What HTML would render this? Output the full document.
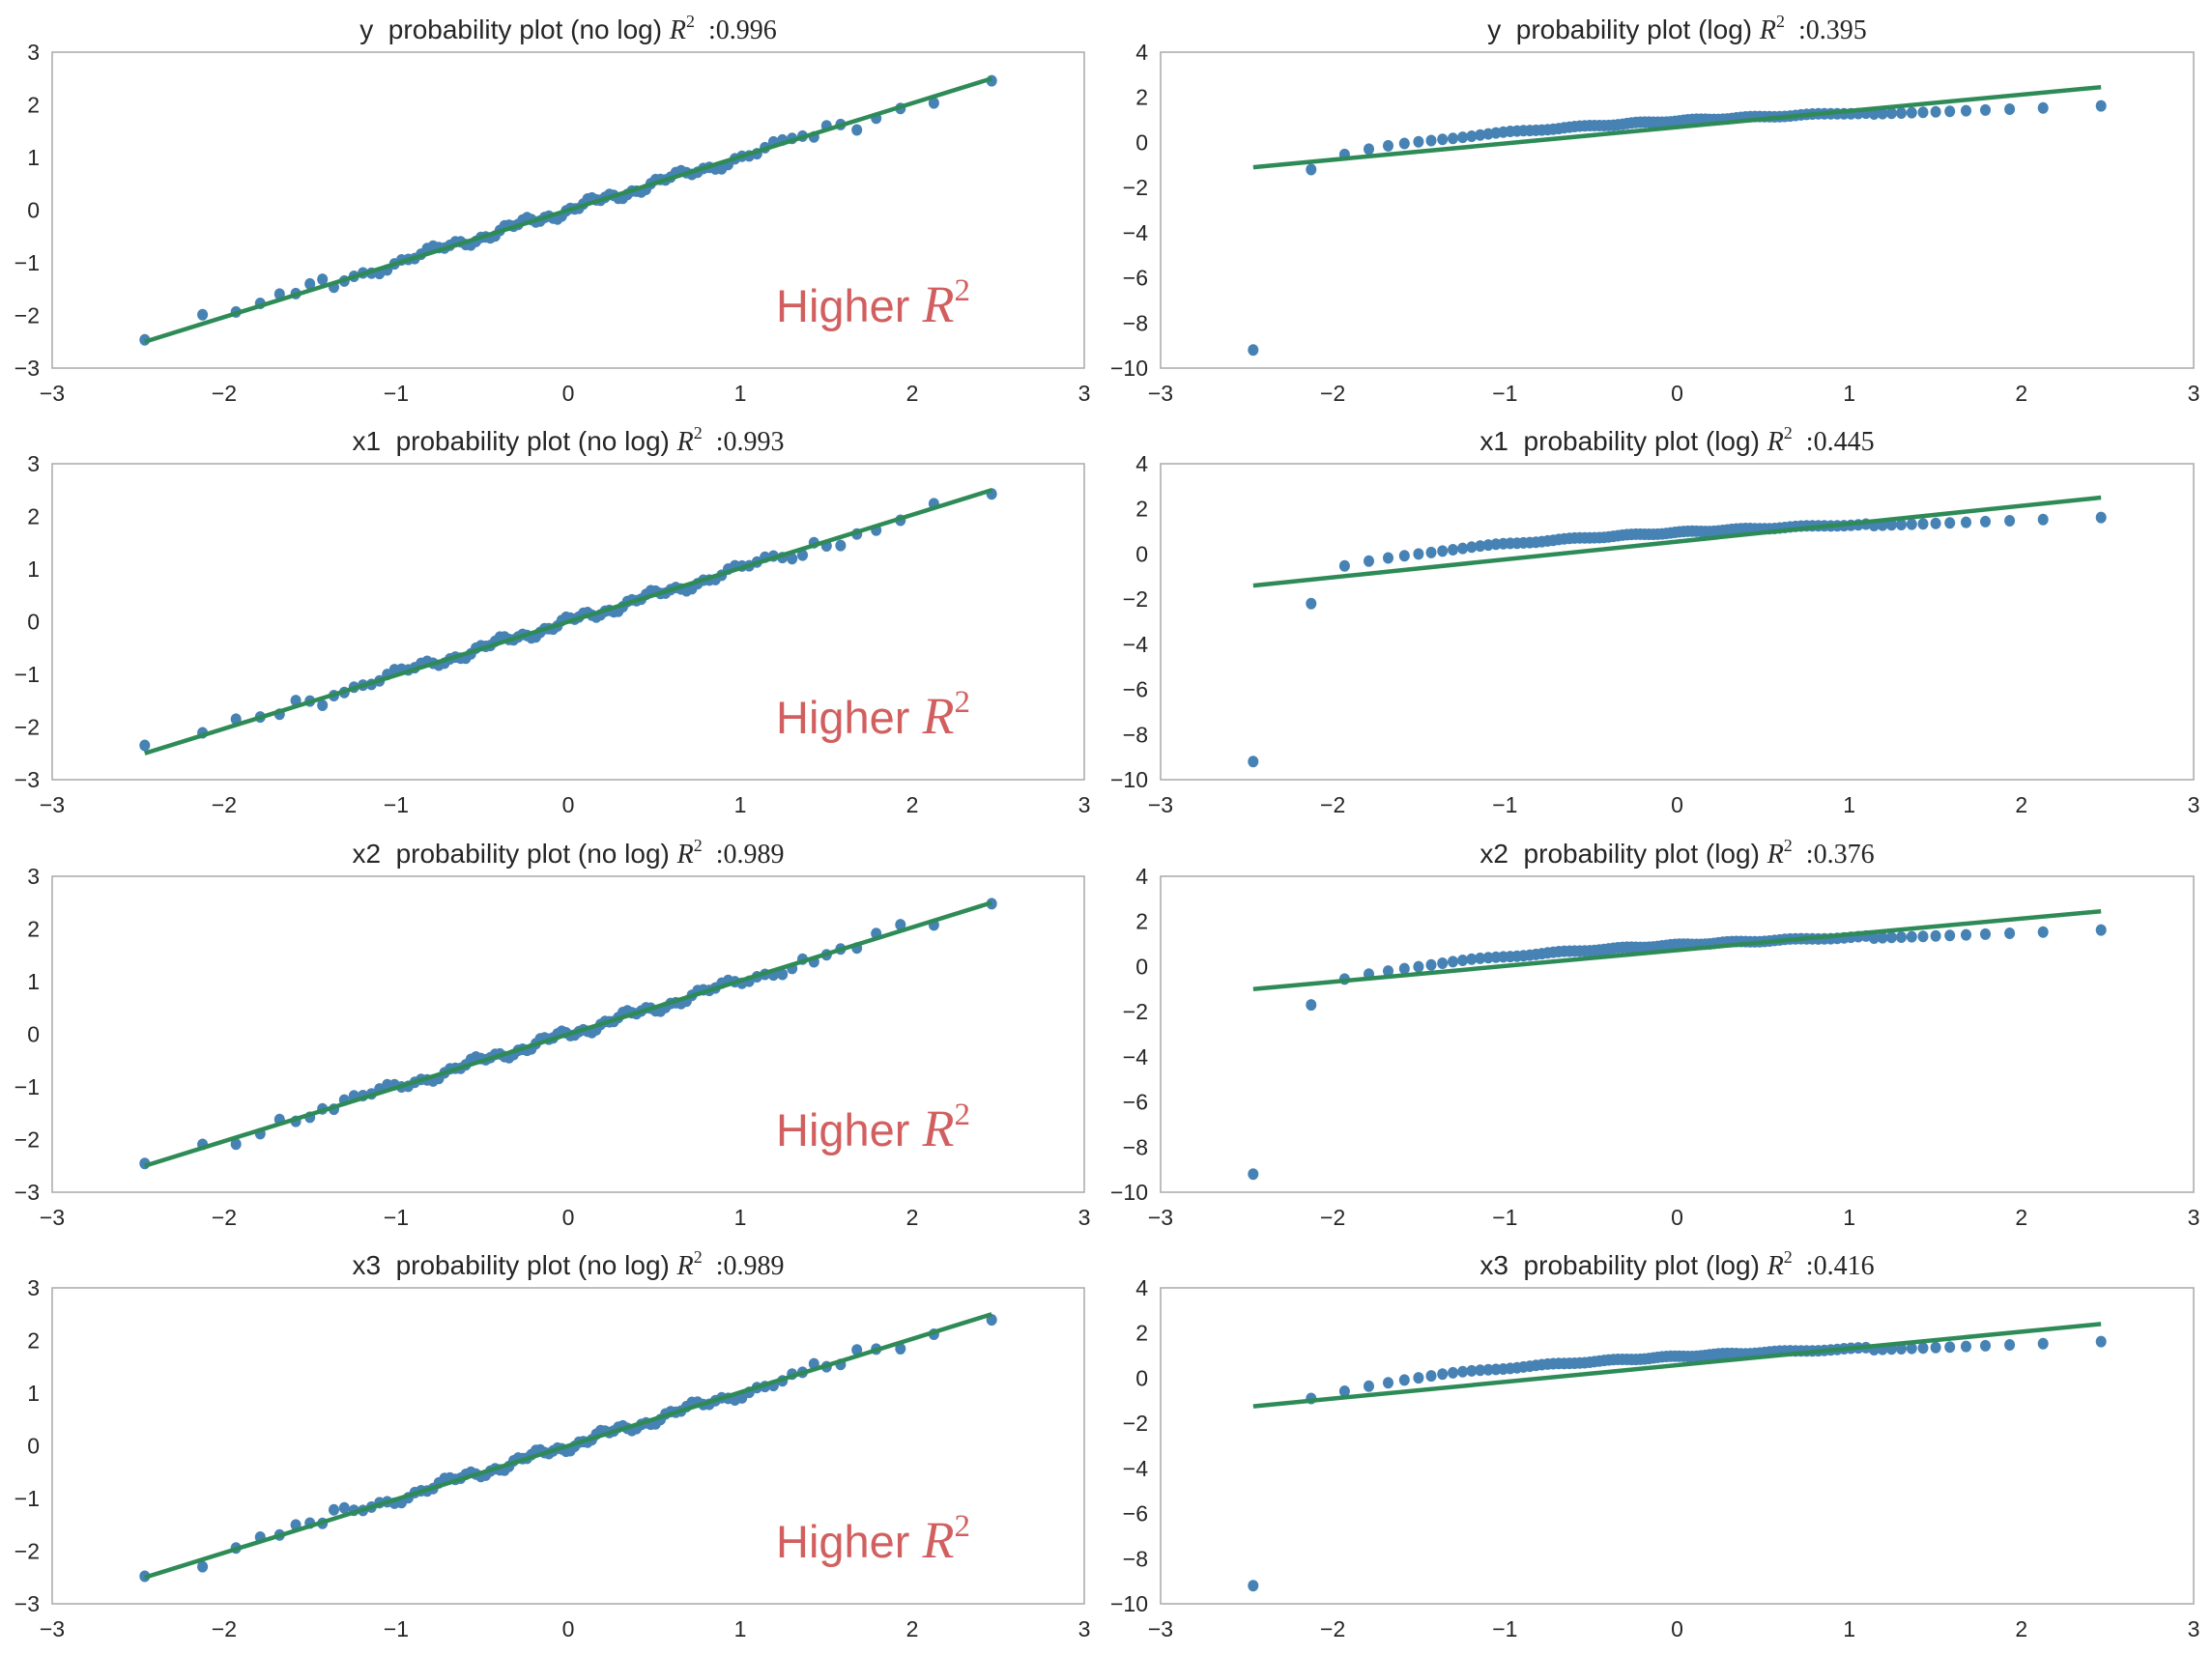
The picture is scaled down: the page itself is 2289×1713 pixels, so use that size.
<!DOCTYPE html>
<html><head><meta charset="utf-8"><style>
html,body{margin:0;padding:0;background:#fff}
svg{display:block}
text{font-family:"Liberation Sans",sans-serif;fill:#262626;white-space:pre}
</style></head><body>
<svg id="s" width="2289" height="1713" xmlns="http://www.w3.org/2000/svg"></svg>
<script>
const S=document.getElementById('s');
let h='';
function ppf(p){const a=[-39.6968302866538,220.946098424521,-275.928510446969,138.357751867269,-30.6647980661472,2.50662827745924],
b=[-54.4760987982241,161.585836858041,-155.698979859887,66.8013118877197,-13.2806815528857],
c=[-0.00778489400243029,-0.322396458041136,-2.40075827716184,-2.54973253934373,4.37466414146497,2.93816398269878],
d=[0.00778469570904146,0.32246712907004,2.445134137143,3.75440866190742];
let q,r;if(p<0.02425){q=Math.sqrt(-2*Math.log(p));return(((((c[0]*q+c[1])*q+c[2])*q+c[3])*q+c[4])*q+c[5])/((((d[0]*q+d[1])*q+d[2])*q+d[3])*q+1);}
if(p>1-0.02425){q=Math.sqrt(-2*Math.log(1-p));return-(((((c[0]*q+c[1])*q+c[2])*q+c[3])*q+c[4])*q+c[5])/((((d[0]*q+d[1])*q+d[2])*q+d[3])*q+1);}
q=p-0.5;r=q*q;return(((((a[0]*r+a[1])*r+a[2])*r+a[3])*r+a[4])*r+a[5])*q/(((((b[0]*r+b[1])*r+b[2])*r+b[3])*r+b[4])*r+1);}
const n=100,Q=[];
for(let i=1;i<=n;i++){let m;if(i==1)m=1-Math.pow(0.5,1/n);else if(i==n)m=Math.pow(0.5,1/n);else m=(i-0.3175)/(n+0.365);Q.push(ppf(m));}
const names=['y','x1','x2','x3'],r1=['0.996','0.993','0.989','0.989'],r2=['0.395','0.445','0.376','0.416'];
const lines=[[-1.1,2.45],[-1.4,2.5],[-1.0,2.45],[-1.25,2.4]],sec=[-1.2,-2.2,-1.7,-0.9];
const tops=[54,480,907,1333],H=327;
const BL='#4682b4',GR='#2e8b57';
function panel(x0,x1,y0,ymin,ymax,yt,title,pts,line,hi){
 const X=v=>x0+(v+3)/6*(x1-x0),Y=v=>y0+(ymax-v)/(ymax-ymin)*H;
 h+=`<rect x="${x0}" y="${y0}" width="${x1-x0}" height="${H}" fill="none" stroke="#a8a8a8" stroke-width="1.5"/>`;
 for(let t=-3;t<=3;t++)h+=`<text x="${X(t)}" y="${y0+H+34}" font-size="23" text-anchor="middle">${t<0?'\u2212'+(-t):t}</text>`;
 for(const t of yt)h+=`<text x="${x0-13}" y="${Y(t)+8}" font-size="23" text-anchor="end">${t<0?'\u2212'+(-t):t}</text>`;
 h+=`<text x="${(x0+x1)/2}" y="${y0-14}" font-size="28" text-anchor="middle">${title}</text>`;
 for(const p of pts)h+=`<ellipse cx="${X(p[0]).toFixed(1)}" cy="${Y(p[1]).toFixed(1)}" rx="5.5" ry="6" fill="${BL}"/>`;
 h+=`<line x1="${X(Q[0])}" y1="${Y(line[0])}" x2="${X(Q[n-1])}" y2="${Y(line[1])}" stroke="${GR}" stroke-width="4.5"/>`;
 if(hi)h+=`<text x="803" y="${y0+279}" font-size="47" style="fill:#d25f5f">Higher <tspan font-family="Liberation Serif" font-style="italic" font-size="54" style="fill:#d25f5f">R</tspan><tspan font-family="Liberation Serif" font-size="33" dy="-22" style="fill:#d25f5f">2</tspan></text>`;
}
for(let k=0;k<4;k++){
 const y0=tops[k];
 const p1=Q.map((q,i)=>[q,q+0.06*Math.sin(i*0.37+k*1.7)+0.05*Math.sin(i*1.3+k)+(Math.abs(q)>1.3?0.08*Math.sin(i*2.1+k*3):0)]);
 const t1=`${names[k]}  probability plot (no log) <tspan font-family="Liberation Serif" font-style="italic">R</tspan><tspan font-family="Liberation Serif" font-size="18" dy="-12">2</tspan><tspan font-family="Liberation Serif" dy="12">  :${r1[k]}</tspan>`;
 panel(54,1122,y0,-3,3,[3,2,1,0,-1,-2,-3],t1,p1,[-2.5,2.5],true);
 const p2=Q.map((q,i)=>{let v;if(i==0)v=-9.2;else if(i==1)v=sec[k];else v=Math.log(1.05*q+2.6)+0.03*Math.sin(i*0.5+k);if(q>1.1&&i>1)v=Math.min(v,1.25+0.27*(q-1.1));return[q,v];});
 const t2=`${names[k]}  probability plot (log) <tspan font-family="Liberation Serif" font-style="italic">R</tspan><tspan font-family="Liberation Serif" font-size="18" dy="-12">2</tspan><tspan font-family="Liberation Serif" dy="12">  :${r2[k]}</tspan>`;
 panel(1201,2270,y0,-10,4,[4,2,0,-2,-4,-6,-8,-10],t2,p2,lines[k],false);
}
S.innerHTML=h;
</script>
</body></html>
